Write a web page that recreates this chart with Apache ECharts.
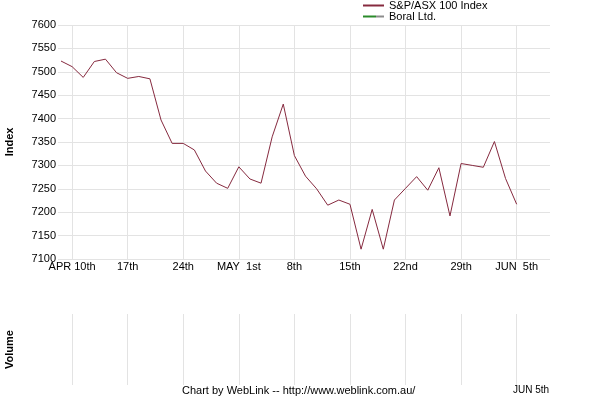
<!DOCTYPE html>
<html>
<head>
<meta charset="utf-8">
<script src="https://cdn.jsdelivr.net/npm/echarts@6/dist/echarts.min.js"></script>
<style>
  html, body { margin: 0; padding: 0; background: #fff; }
  #chart { width: 600px; height: 400px; }
</style>
</head>
<body>
<div id="chart"></div>
<script>
// trading days shown on the axis (last three have no data yet)
var dates = [
    'Apr 7',
    'Apr 10', 'Apr 11', 'Apr 12', 'Apr 13', 'Apr 14',
    'Apr 17', 'Apr 18', 'Apr 19', 'Apr 20', 'Apr 21',
    'Apr 24', 'Apr 25', 'Apr 26', 'Apr 27', 'Apr 28',
    'May 1', 'May 2', 'May 3', 'May 4', 'May 5',
    'May 8', 'May 9', 'May 10', 'May 11', 'May 12',
    'May 15', 'May 16', 'May 17', 'May 18', 'May 19',
    'May 22', 'May 23', 'May 24', 'May 25', 'May 26',
    'May 29', 'May 30', 'May 31', 'Jun 1', 'Jun 2',
    'Jun 5', 'Jun 6', 'Jun 7', 'Jun 8'
];

var asx100 = [
    7523,
    7511, 7488, 7522, 7527, 7498,
    7486, 7490, 7485, 7397, 7347,
    7347, 7333, 7288, 7262, 7251,
    7297, 7271, 7262, 7361, 7431,
    7321, 7277, 7250, 7215, 7226,
    7217, 7121, 7206, 7121, 7226,
    7251, 7276, 7247, 7295, 7192,
    7304, 7300, 7296, 7351, 7272,
    7217
];

var boral = [];

// week markers: index into dates, and the label printed there
var weekIdx = [1, 6, 11, 16, 21, 26, 31, 36, 41];
var weekLabels = ['APR 10th', '17th', '24th', 'MAY  1st', '8th', '15th', '22nd', '29th', 'JUN  5th'];

var yTicks = { min: 7100, max: 7600, step: 50 };

var font = 'Liberation Sans, Arial, sans-serif';
var gridColor = '#e3e3e3';

function isWeek(i) {
    return weekIdx.indexOf(i) >= 0;
}

var chart = echarts.init(document.getElementById('chart'));

chart.setOption({
    animation: false,
    backgroundColor: '#fff',
    textStyle: { fontFamily: font },
    legend: {
        orient: 'vertical',
        left: 363,
        top: 0,
        padding: 0,
        itemGap: 0,
        itemWidth: 21,
        itemHeight: 2,
        selectedMode: false,
        textStyle: { fontSize: 11, lineHeight: 10, color: '#000', fontFamily: font },
        data: [
            { name: 'S&P/ASX 100 Index', icon: 'rect' },
            {
                name: 'Boral Ltd.',
                icon: 'rect',
                itemStyle: {
                    color: {
                        type: 'linear', x: 0, y: 0, x2: 1, y2: 0,
                        colorStops: [
                            { offset: 0, color: '#2a8a2a' },
                            { offset: 0.6, color: '#2a8a2a' },
                            { offset: 0.6, color: '#8c8c8c' },
                            { offset: 1, color: '#8c8c8c' }
                        ]
                    }
                }
            }
        ]
    },
    grid: [
        { left: 61, right: 50, top: 25, height: 234, outerBoundsMode: 'none', containLabel: false },
        { left: 61, right: 50, top: 314, height: 71, outerBoundsMode: 'none', containLabel: false }
    ],
    xAxis: [
        {
            type: 'category',
            gridIndex: 0,
            data: dates,
            boundaryGap: false,
            axisLine: { show: false },
            axisTick: { show: false },
            splitLine: {
                show: true,
                interval: function (i) { return isWeek(i); },
                lineStyle: { color: gridColor, width: 1 }
            },
            axisLabel: {
                interval: function (i) { return isWeek(i); },
                formatter: function (v, i) {
                    var k = weekIdx.indexOf(i);
                    return k >= 0 ? weekLabels[k] : '';
                },
                fontSize: 11,
                color: '#000',
                margin: 2,
                fontFamily: font
            }
        },
        {
            type: 'category',
            gridIndex: 1,
            data: dates,
            boundaryGap: false,
            axisLine: { show: false },
            axisTick: { show: false },
            axisLabel: { show: false },
            splitLine: {
                show: true,
                interval: function (i) { return isWeek(i); },
                lineStyle: { color: gridColor, width: 1 }
            }
        }
    ],
    yAxis: [
        {
            type: 'value',
            gridIndex: 0,
            min: yTicks.min,
            max: yTicks.max,
            interval: yTicks.step,
            name: 'Index',
            nameLocation: 'middle',
            nameGap: 46,
            nameTextStyle: { fontSize: 11, fontWeight: 'bold', color: '#000', fontFamily: font },
            axisLine: { show: false },
            axisTick: { show: true, length: 3, lineStyle: { color: gridColor } },
            axisLabel: {
                fontSize: 11, color: '#000', margin: 5, fontFamily: font,
                formatter: function (v) { return String(v); }
            },
            splitLine: { show: true, lineStyle: { color: gridColor, width: 1 } }
        },
        {
            type: 'value',
            gridIndex: 1,
            min: 0,
            max: 1,
            name: 'Volume',
            nameLocation: 'middle',
            nameGap: 46,
            nameTextStyle: { fontSize: 11, fontWeight: 'bold', color: '#000', fontFamily: font },
            axisLine: { show: false },
            axisTick: { show: false },
            axisLabel: { show: false },
            splitLine: { show: false }
        }
    ],
    series: [
        {
            name: 'S&P/ASX 100 Index',
            type: 'line',
            xAxisIndex: 0,
            yAxisIndex: 0,
            data: asx100,
            showSymbol: false,
            symbol: 'none',
            color: '#862a3f',
            lineStyle: { color: '#862a3f', width: 1 }
        },
        {
            name: 'Boral Ltd.',
            type: 'line',
            xAxisIndex: 0,
            yAxisIndex: 0,
            data: boral,
            symbol: 'none',
            color: '#2a8a2a',
            lineStyle: { color: '#2a8a2a', width: 1 }
        }
    ],
    graphic: [
        {
            type: 'text',
            left: 182,
            top: 385,
            style: {
                text: 'Chart by WebLink -- http://www.weblink.com.au/',
                font: '11px ' + font,
                fill: '#000'
            }
        },
        {
            type: 'text',
            left: 513,
            top: 385,
            style: {
                text: 'JUN 5th',
                font: '10px ' + font,
                fill: '#000'
            }
        }
    ]
});
</script>
</body>
</html>
